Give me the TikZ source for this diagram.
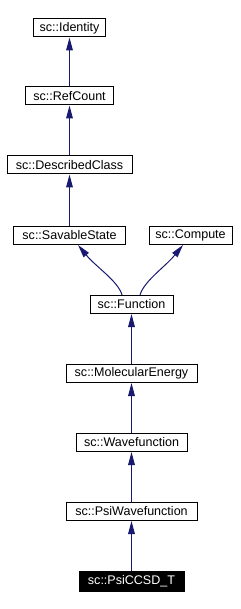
\documentclass[tikz,border=0pt]{standalone}
\usepackage{fontspec}
\setmainfont{Liberation Sans}
\usetikzlibrary{arrows.meta}

\definecolor{navy}{RGB}{25,25,112}

\tikzset{
  cls/.style={draw, line width=0.75pt, fill=white, minimum height=13.5pt, inner sep=0pt,
    font=\fontsize{9.4}{11}\selectfont},
  akt/.style={cls, fill=black, text=white},
  inh/.style={{Triangle[length=9.75pt,width=5pt]}-, navy, line width=0.75pt}
}

\begin{document}
\begin{tikzpicture}[x=0.75pt, y=-0.75pt]

  % Rahmen
  \useasboundingbox (0,0) rectangle (240,609);

  % Klassen
  \node[cls, minimum width=54pt]    (identity)  at (69.5,28)    {sc::Identity};
  \node[cls, minimum width=66pt]    (refcount)  at (69.5,96)    {sc::RefCount};
  \node[cls, minimum width=93.75pt] (described) at (69.5,165)   {sc::DescribedClass};
  \node[cls, minimum width=84pt]    (savable)   at (69.5,235.5) {sc::SavableState};
  \node[cls, minimum width=62.25pt] (compute)   at (190.5,235.5) {sc::Compute};
  \node[cls, minimum width=62.25pt] (function)  at (131.5,304.5) {sc::Function};
  \node[cls, minimum width=98.25pt] (molenergy) at (131.5,373.5) {sc::MolecularEnergy};
  \node[cls, minimum width=83.25pt] (wavefn)    at (131.5,442.5) {sc::Wavefunction};
  \node[cls, minimum width=98.25pt] (psiwavefn) at (131.5,511.5) {sc::PsiWavefunction};
  \node[akt, minimum width=78.75pt, minimum height=15pt] (psiccsdt) at (131.5,581) {sc::PsiCCSD\_T};

  % Vererbung
  \draw[inh] (identity) -- (refcount);
  \draw[inh] (refcount) -- (described);
  \draw[inh] (described) -- (savable);
  \draw[inh] ([xshift=6.4pt]savable.south) .. controls +(18,22) and +(-4,-14) .. ([xshift=-7.1pt]function.north);
  \draw[inh] ([xshift=-5.6pt]compute.south) .. controls +(-18,22) and +(4,-14) .. ([xshift=6.4pt]function.north);
  \draw[inh] (function) -- (molenergy);
  \draw[inh] (molenergy) -- (wavefn);
  \draw[inh] (wavefn) -- (psiwavefn);
  \draw[inh] (psiwavefn) -- (psiccsdt);
\end{tikzpicture}
\end{document}
